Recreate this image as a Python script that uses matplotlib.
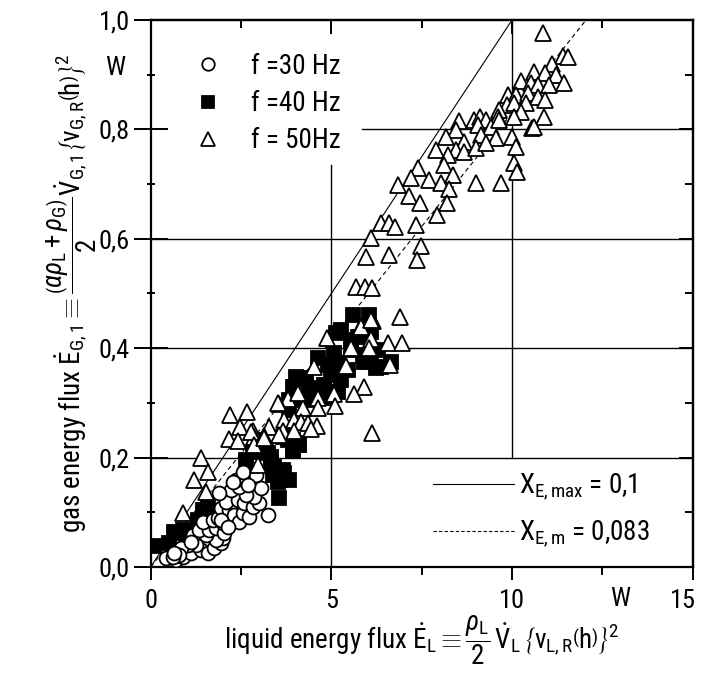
import matplotlib
matplotlib.use("Agg")
import matplotlib.pyplot as plt
from matplotlib.lines import Line2D
from matplotlib.ticker import FixedLocator, FixedFormatter
from matplotlib.transforms import ScaledTranslation
from matplotlib import font_manager as fm

# ---------------- font choice (narrow face if available) ----------------
names = {f.name for f in fm.fontManager.ttflist}
FONT = None
for cand in ['Liberation Sans Narrow', 'Roboto Condensed', 'Noto Sans Condensed',
             'Open Sans Condensed', 'DejaVu Sans Condensed']:
    if cand in names:
        FONT = cand
        break
STRETCH = 'normal'
if FONT is None:
    for f in fm.fontManager.ttflist:
        if str(f.stretch) in ('condensed', 'semi-condensed') and f.style == 'normal':
            FONT = f.name
            STRETCH = str(f.stretch)
            break
SCALE = 1.0
if FONT is None:
    FONT = 'DejaVu Sans'
    SCALE = 0.8
plt.rcParams['font.family'] = [FONT, 'DejaVu Sans']
plt.rcParams['font.stretch'] = STRETCH
plt.rcParams['mathtext.fontset'] = 'custom'
plt.rcParams['mathtext.rm'] = FONT
plt.rcParams['mathtext.it'] = FONT + ':italic'
plt.rcParams['mathtext.bf'] = FONT + ':bold'
plt.rcParams['mathtext.sf'] = FONT

# ---------------- data ----------------
x30 = [0.42, 0.69, 0.89, 1.11, 1.38, 1.58, 1.25, 1.02, 1.75, 1.94, 2.0, 1.8, 1.52, 1.16,
       1.33, 1.61, 1.8, 2.02, 1.44, 1.72, 1.86, 2.0, 1.94, 2.16, 2.22, 2.08, 2.3, 2.44,
       2.55, 2.71, 2.41, 2.58, 2.83, 2.99, 2.86, 2.64, 2.22, 1.89, 2.44, 2.35, 2.64, 2.91,
       3.05, 3.24, 2.55, 2.27, 2.69, 1.94, 2.13, 0.83, 0.78, 0.61, 1.11, 0.64]
y30 = [0.016, 0.013, 0.018, 0.025, 0.031, 0.025, 0.04, 0.04, 0.035, 0.044, 0.053, 0.049,
       0.058, 0.058, 0.068, 0.068, 0.071, 0.062, 0.082, 0.086, 0.09, 0.08, 0.108, 0.104,
       0.117, 0.119, 0.095, 0.082, 0.099, 0.091, 0.122, 0.117, 0.11, 0.117, 0.128, 0.132,
       0.141, 0.135, 0.146, 0.159, 0.163, 0.168, 0.144, 0.095, 0.174, 0.155, 0.15, 0.086,
       0.073, 0.035, 0.022, 0.018, 0.046, 0.025]

x40 = [0.08, 0.5, 0.64, 0.83, 0.97, 0.89, 1.3, 1.44, 1.58, 1.52,
       2.63, 2.83, 2.69, 3.19, 3.32, 3.38, 3.66, 3.82, 3.52, 3.55, 4.02, 3.93, 2.91,
       3.24, 3.6, 4.1, 3.79,
       5.6, 6.04, 6.09, 5.26, 5.12, 5.73, 5.07, 5.54, 5.87, 6.29, 6.04, 6.37, 6.65, 6.23,
       4.63, 4.9, 5.18, 5.46, 4.99, 5.26, 4.79, 5.18, 4.9, 4.02, 4.29, 3.93, 4.38, 4.1,
       3.82, 4.43, 3.82, 3.66, 3.93, 4.1, 3.93, 3.13, 3.32, 3.41, 3.68, 3.55,
       6.09, 5.9, 5.54]
y40 = [0.038, 0.044, 0.064, 0.062, 0.058, 0.068, 0.086, 0.104, 0.11, 0.104,
       0.196, 0.21, 0.177, 0.21, 0.19, 0.168, 0.177, 0.159, 0.155, 0.126, 0.227, 0.214, 0.232,
       0.208, 0.174, 0.223, 0.232,
       0.461, 0.461, 0.43, 0.433, 0.428, 0.42, 0.391, 0.397, 0.388, 0.397, 0.375, 0.366,
       0.375, 0.364,
       0.382, 0.369, 0.373, 0.36, 0.351, 0.342, 0.333, 0.32, 0.309, 0.347, 0.345, 0.329,
       0.327, 0.305, 0.305, 0.305, 0.287, 0.238, 0.232, 0.223, 0.214, 0.214, 0.201, 0.183,
       0.172, 0.159,
       0.393, 0.375, 0.415]

x50 = [10.86, 11.41, 11.55, 11.11, 10.6, 10.91, 11.22, 10.25, 10.53, 10.72, 11.03, 11.44,
       9.89, 10.11, 10.44, 10.72, 9.86, 10.06, 10.39, 10.91, 9.64, 10.25, 10.06, 10.89,
       9.61, 10.55, 10.61, 8.53, 8.95, 9.11, 9.28, 9.06, 9.42, 9.64, 8.45, 8.17, 8.67,
       9.14, 9.56, 10.0, 10.11, 7.89, 8.45, 8.23, 8.67, 9.0, 9.28, 10.06, 10.14, 7.4,
       8.12, 7.2, 6.84, 7.7, 8.03, 8.37, 8.26, 9.0, 9.7, 7.15, 7.45, 8.2, 7.92, 6.37,
       6.6, 6.76, 7.34, 6.09, 7.48, 5.96, 6.6, 7.37, 5.68, 5.93, 6.12,
       6.9, 6.15, 5.79, 4.88, 6.09, 6.56, 6.95, 5.54, 6.04, 4.52, 5.4, 6.62, 5.9, 5.62,
       5.07, 4.07, 4.63, 3.8, 3.55, 5.1, 4.21, 4.63, 2.66, 3.68, 3.96, 4.16, 4.35, 4.6,
       3.27, 3.66, 3.96, 4.43, 2.83, 3.13, 2.85, 6.12, 5.82, 6.09, 3.52, 4.07,
       1.38, 1.58, 1.19, 1.52, 0.89, 2.19, 2.47, 2.77, 2.16, 2.41, 2.85, 3.13, 3.55, 2.96]
y50 = [0.976, 0.934, 0.932, 0.92, 0.905, 0.903, 0.9, 0.888, 0.885, 0.881, 0.881, 0.885,
       0.863, 0.863, 0.866, 0.859, 0.845, 0.848, 0.848, 0.854, 0.835, 0.832, 0.823, 0.823,
       0.823, 0.803, 0.804, 0.815, 0.817, 0.823, 0.817, 0.808, 0.804, 0.817, 0.799, 0.786,
       0.777, 0.79, 0.784, 0.786, 0.768, 0.762, 0.762, 0.753, 0.759, 0.766, 0.775, 0.739,
       0.722, 0.729, 0.735, 0.711, 0.698, 0.707, 0.702, 0.717, 0.691, 0.702, 0.702, 0.678,
       0.665, 0.665, 0.643, 0.629, 0.629, 0.622, 0.625, 0.601, 0.587, 0.567, 0.57, 0.561,
       0.512, 0.512, 0.51,
       0.457, 0.45, 0.437, 0.418, 0.417, 0.41, 0.41, 0.40, 0.40, 0.366, 0.367, 0.369,
       0.329, 0.316, 0.316, 0.316, 0.309, 0.307, 0.298, 0.294, 0.291, 0.291, 0.283, 0.269,
       0.269, 0.265, 0.263, 0.258, 0.256, 0.249, 0.249, 0.252, 0.249, 0.24, 0.238, 0.245,
       0.439, 0.452, 0.30, 0.318,
       0.199, 0.174, 0.159, 0.137, 0.099, 0.278, 0.256, 0.247, 0.234, 0.23, 0.223, 0.236,
       0.241, 0.186]

series_labels = ['f =30 Hz', 'f =40 Hz', 'f = 50Hz']
ratio_max = 0.1
ratio_mean = 0.083
ratio_labels = [r'$\mathrm{X}_{\mathrm{E,max}}$ = 0,1', r'$\mathrm{X}_{\mathrm{E,m}}$ = 0,083']

x_major = [0, 5, 10, 15]
x_major_labels = ['0', '5', '10', '15']
x_minor = [2.5, 7.5, 12.5]
y_major = [0.0, 0.2, 0.4, 0.6, 0.8, 1.0]
y_major_labels = ['0,0', '0,2', '0,4', '0,6', '0,8', '1,0']
y_minor = [0.1, 0.3, 0.5, 0.7, 0.9]

xlabel = (r'liquid energy flux $\dot{\mathrm{E}}_{\mathrm{L}}\equiv\dfrac{\rho_{\mathrm{L}}}{2}\,'
          r'\dot{\mathrm{V}}_{\mathrm{L}}\,\left\{\mathrm{v}_{\mathrm{L,R}}\left(\mathrm{h}\right)\right\}^{2}$')
ylabel = (r'gas energy flux $\dot{\mathrm{E}}_{\mathrm{G,1}}\equiv\dfrac{\left(\alpha\rho_{\mathrm{L}}+\rho_{\mathrm{G}}\right)}{2}'
          r'\dot{\mathrm{V}}_{\mathrm{G,1}}\left\{\mathrm{v}_{\mathrm{G,R}}\left(\mathrm{h}\right)\right\}^{2}$')

FS_TICK = 19 * SCALE
FS_LAB = 19.5 * SCALE
FS_LEG = 19.5 * SCALE

# ---------------- figure ----------------
fig = plt.figure(figsize=(7.04, 6.77), dpi=100)
ax = fig.add_axes([0.214, 0.1625, 0.77, 0.808])
ax.set_xlim(0, 15)
ax.set_ylim(0, 1.0)

LW = 1.0
# grid (interrupted where the legends sit)
for yv in y_major[1:-1]:
    xmin = 0.39 if yv == 0.8 else 0.0
    ax.axhline(yv, xmin=xmin, xmax=1, color='black', lw=LW, zorder=1)
ax.axvline(5, ymin=0, ymax=0.735, color='black', lw=LW, zorder=1)
ax.axvline(10, ymin=0.2, ymax=1, color='black', lw=LW, zorder=1)

# reference lines
xr = [0, 15]
ax.plot(xr, [ratio_max * v for v in xr], color='black', lw=0.8, zorder=2)
ax.plot(xr, [ratio_mean * v for v in xr], color='black', lw=0.8, ls=(0, (4, 3)), zorder=2)

mk = dict(linestyle='none', markeredgecolor='black', markeredgewidth=1.3)
ax.plot(x40, y40, marker='s', markersize=9.5, markerfacecolor='black', zorder=3, **mk)
ax.plot(x30, y30, marker='o', markersize=10, markerfacecolor='white', zorder=4, **mk)
ax.plot(x50, y50, marker='^', markersize=11, markerfacecolor='white', zorder=5, **mk)

# ticks
ax.xaxis.set_major_locator(FixedLocator(x_major))
ax.xaxis.set_major_formatter(FixedFormatter(x_major_labels))
ax.xaxis.set_minor_locator(FixedLocator(x_minor))
ax.yaxis.set_major_locator(FixedLocator(y_major))
ax.yaxis.set_major_formatter(FixedFormatter(y_major_labels))
ax.yaxis.set_minor_locator(FixedLocator(y_minor))
ax.tick_params(axis='x', which='major', direction='out', length=9, width=1.4,
               labelsize=FS_TICK, pad=7, top=False)
ax.tick_params(axis='x', which='minor', direction='out', length=6, width=1.4, top=False)
ax.tick_params(axis='y', which='major', direction='inout', length=24, width=1.4,
               labelsize=FS_TICK, pad=3, right=False)
ax.tick_params(axis='y', which='minor', direction='inout', length=6, width=1.4, right=False)

secx = ax.secondary_xaxis('top')
secx.xaxis.set_major_locator(FixedLocator(x_major))
secx.xaxis.set_minor_locator(FixedLocator(x_minor))
secx.tick_params(which='major', direction='in', length=10, width=1.4, labeltop=False)
secx.tick_params(which='minor', direction='in', length=6, width=1.4)
secx.spines['top'].set_linewidth(1.6)
secy = ax.secondary_yaxis('right')
secy.yaxis.set_major_locator(FixedLocator(y_major))
secy.yaxis.set_minor_locator(FixedLocator(y_minor))
secy.tick_params(which='major', direction='in', length=10, width=1.4, labelright=False)
secy.tick_params(which='minor', direction='in', length=6, width=1.4)
secy.spines['right'].set_linewidth(1.6)

for s in ax.spines.values():
    s.set_linewidth(1.6)

# unit labels
ax.text(13.0, -0.037, 'W', ha='center', va='top', fontsize=FS_TICK)
ax.text(-0.066, 0.912, 'W', transform=ax.transAxes, ha='center', va='center', fontsize=FS_TICK)

ax.set_xlabel(xlabel, fontsize=FS_LAB, labelpad=0)
ax.set_ylabel(ylabel, fontsize=FS_LAB, labelpad=0)

# legends
h1 = [Line2D([], [], marker='o', markersize=9, markerfacecolor='white', **mk),
      Line2D([], [], marker='s', markersize=9, markerfacecolor='black', **mk),
      Line2D([], [], marker='^', markersize=10, markerfacecolor='white', **mk)]
leg1 = ax.legend(h1, series_labels, loc='upper left', bbox_to_anchor=(0.08, 0.94),
                 frameon=False, fontsize=FS_LEG, handlelength=1.0, handletextpad=1.1,
                 labelspacing=0.38, borderpad=0, borderaxespad=0)
ax.add_artist(leg1)
h2 = [Line2D([], [], color='black', lw=0.8),
      Line2D([], [], color='black', lw=0.8, ls=(0, (3, 2)))]
ax.legend(h2, ratio_labels, loc='upper left', bbox_to_anchor=(0.52, 0.175),
          frameon=False, fontsize=FS_LEG, handlelength=3.0, handletextpad=0.2,
          labelspacing=0.6, borderpad=0, borderaxespad=0)

fig.canvas.draw()
for lab in ax.get_xticklabels():
    if lab.get_text() == '15':
        lab.set_transform(lab.get_transform() + ScaledTranslation(-7 / 72, 0, fig.dpi_scale_trans))

fig.savefig('out.png', dpi=100)
